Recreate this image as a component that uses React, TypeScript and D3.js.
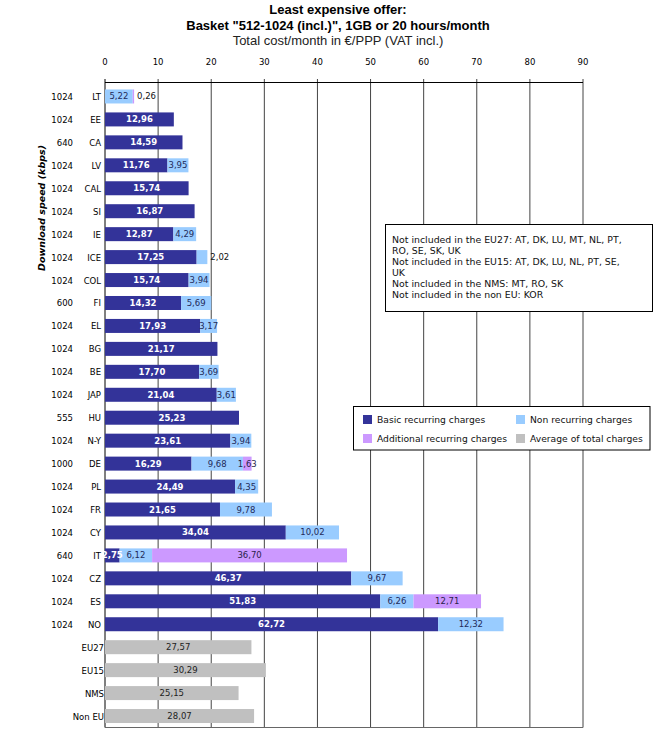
import * as d3 from 'd3';

// countries, download speed (kbps) and the three charge components (€/PPP)
const countries = ['LT', 'EE', 'CA', 'LV', 'CAL', 'SI', 'IE', 'ICE', 'COL', 'FI', 'EL', 'BG', 'BE', 'JAP', 'HU', 'N-Y', 'DE', 'PL', 'FR', 'CY', 'IT', 'CZ', 'ES', 'NO'];
const speeds = ['1024', '1024', '640', '1024', '1024', '1024', '1024', '1024', '1024', '600', '1024', '1024', '1024', '1024', '555', '1024', '1000', '1024', '1024', '1024', '640', '1024', '1024', '1024'];
const basic = [0, 12.96, 14.59, 11.76, 15.74, 16.87, 12.87, 17.25, 15.74, 14.32, 17.93, 21.17, 17.70, 21.04, 25.23, 23.61, 16.29, 24.49, 21.65, 34.04, 2.75, 46.37, 51.83, 62.72];
const nonRecurring = [5.22, 0, 0, 3.95, 0, 0, 4.29, 2.02, 3.94, 5.69, 3.17, 0, 3.69, 3.61, 0, 3.94, 9.68, 4.35, 9.78, 10.02, 6.12, 9.67, 6.26, 12.32];
const additional = [0.26, 0, 0, 0, 0, 0, 0, 0, 0, 0, 0, 0, 0, 0, 0, 0, 1.63, 0, 0, 0, 36.70, 0, 12.71, 0];

const averageGroups = ['EU27', 'EU15', 'NMS', 'Non EU'];
const averageValues = [27.57, 30.29, 25.15, 28.07];

const xTicks = [0, 10, 20, 30, 40, 50, 60, 70, 80, 90];

// labels that Excel pushed outside their (too thin) segment
const outsideLabels = ['LT', 'ICE'];

const noteLines = [
  'Not included in the EU27: AT, DK, LU, MT, NL, PT,',
  'RO, SE, SK, UK',
  'Not included in the EU15: AT, DK, LU, NL, PT, SE,',
  'UK',
  'Not included in the NMS: MT, RO, SK',
  'Not included in the non EU: KOR',
];

const C_BASIC = '#333399';
const C_NONREC = '#99CCFF';
const C_ADD = '#CC99FF';
const C_AVG = '#C0C0C0';

const legendItems = [
  { label: 'Basic recurring charges', color: C_BASIC, col: 0, row: 0 },
  { label: 'Non recurring charges', color: C_NONREC, col: 1, row: 0 },
  { label: 'Additional recurring charges', color: C_ADD, col: 0, row: 1 },
  { label: 'Average of total charges', color: C_AVG, col: 1, row: 1 },
];

const fmt = (v: number) => v.toFixed(2).replace('.', ',');

const SANS = '"DejaVu Sans", Verdana, sans-serif';
const ARIAL = '"Liberation Sans", Arial, sans-serif';

export default function App() {
  const width = 658;
  const height = 746;
  const top = 82.5;
  const bottom = 727.5;

  const x = d3.scaleLinear().domain([0, 90]).range([105, 583]);
  const y = d3.scaleBand<string>()
    .domain([...countries, ...averageGroups])
    .range([85, 727.5])
    .paddingInner(0.39)
    .paddingOuter(0.195);
  const bh = y.bandwidth();

  type Seg = { key: string; x0: number; x1: number; color: string; value: number; text: string; bold: boolean; outside: boolean };
  const segs: Seg[] = [];
  countries.forEach((c, i) => {
    const parts = [
      { v: basic[i], color: C_BASIC, text: '#ffffff', bold: true },
      { v: nonRecurring[i], color: C_NONREC, text: '#1f2a5a', bold: false },
      { v: additional[i], color: C_ADD, text: '#2a1f4a', bold: false },
    ];
    let acc = 0;
    parts.forEach((p) => {
      if (p.v > 0) {
        segs.push({ key: c, x0: acc, x1: acc + p.v, color: p.color, value: p.v, text: p.text, bold: p.bold, outside: false });
        acc += p.v;
      }
    });
    if (outsideLabels.includes(c)) segs[segs.length - 1].outside = true;
  });
  averageGroups.forEach((g, i) => {
    segs.push({ key: g, x0: 0, x1: averageValues[i], color: C_AVG, value: averageValues[i], text: '#222', bold: false, outside: false });
  });

  return (
    <div style={{ position: 'absolute', left: 0, top: 0 }}>
      <svg width={width} height={height} style={{ display: 'block', background: '#fff' }}>
        {/* titles */}
        <g fontFamily={ARIAL} textAnchor="middle" fill="#000">
          <text x={338} y={14} fontSize={13} fontWeight="bold">Least expensive offer:</text>
          <text x={338} y={30} fontSize={13} fontWeight="bold">Basket "512-1024 (incl.)", 1GB or 20 hours/month</text>
          <text x={338} y={45} fontSize={13} fill="#222">Total cost/month in €/PPP (VAT incl.)</text>
        </g>

        {/* top axis labels */}
        <g fontFamily={SANS} fontSize={8.5} textAnchor="middle">
          {xTicks.map((t) => (
            <text key={t} x={x(t)} y={65}>{t}</text>
          ))}
        </g>

        {/* gridlines */}
        <g>
          {xTicks.map((t) => (
            <line key={t} x1={x(t)} x2={x(t)} y1={79} y2={bottom} stroke={t === 0 ? '#000' : '#444'} strokeWidth={1} />
          ))}
          <line x1={x(0)} x2={x(90)} y1={top} y2={top} stroke="#000" />
          <line x1={x(0)} x2={x(90)} y1={bottom} y2={bottom} stroke="#666" />
        </g>

        {/* bars */}
        <g>
          {segs.map((s, i) => (
            <rect key={i} x={x(s.x0)} y={y(s.key)} width={x(s.x1) - x(s.x0)} height={bh} fill={s.color} />
          ))}
        </g>

        {/* value labels */}
        <g fontFamily={SANS} fontSize={8.5}>
          {segs.map((s, i) => {
            const cy = (y(s.key) ?? 0) + bh / 2 + 3;
            if (s.outside) {
              return (
                <text key={i} x={x(s.x1) + 3} y={cy} fill="#111">{fmt(s.value)}</text>
              );
            }
            return (
              <text key={i} x={(x(s.x0) + x(s.x1)) / 2} y={cy} textAnchor="middle" fill={s.text} fontWeight={s.bold ? 'bold' : 'normal'}>
                {fmt(s.value)}
              </text>
            );
          })}
        </g>

        {/* category and speed labels */}
        <g fontFamily={SANS} fontSize={8.5} fill="#000" textAnchor="end">
          {countries.map((c, i) => (
            <g key={c}>
              <text x={101} y={(y(c) ?? 0) + bh / 2 + 3.5}>{c}</text>
              <text x={73} y={(y(c) ?? 0) + bh / 2 + 3.5}>{speeds[i]}</text>
            </g>
          ))}
          {averageGroups.map((g) => (
            <text key={g} x={104} y={(y(g) ?? 0) + bh / 2 + 3.5}>{g}</text>
          ))}
        </g>

        {/* y axis title */}
        <text
          transform="translate(45,208) rotate(-90)"
          textAnchor="middle"
          fontFamily={SANS}
          fontSize={9.5}
          fontWeight="bold"
          fontStyle="italic"
        >
          Download speed (kbps)
        </text>

        {/* note box */}
        <g>
          <rect x={385.5} y={224.5} width={267} height={87} fill="#fff" stroke="#000" />
          <g fontFamily={SANS} fontSize={9.4} fill="#111">
            {noteLines.map((l, i) => (
              <text key={i} x={392} y={243 + i * 11}>{l}</text>
            ))}
          </g>
        </g>

        {/* legend */}
        <g>
          <rect x={353.5} y={406.5} width={296.5} height={43.5} fill="#fff" stroke="#000" />
          {legendItems.map((it) => {
            const lx = it.col === 0 ? 363 : 516;
            const ly = it.row === 0 ? 415 : 434;
            return (
              <g key={it.label}>
                <rect x={lx} y={ly} width={9} height={9} fill={it.color} />
                <text x={lx + 14} y={ly + 8} fontFamily={SANS} fontSize={9.2} fill="#111">{it.label}</text>
              </g>
            );
          })}
        </g>
      </svg>
    </div>
  );
}
